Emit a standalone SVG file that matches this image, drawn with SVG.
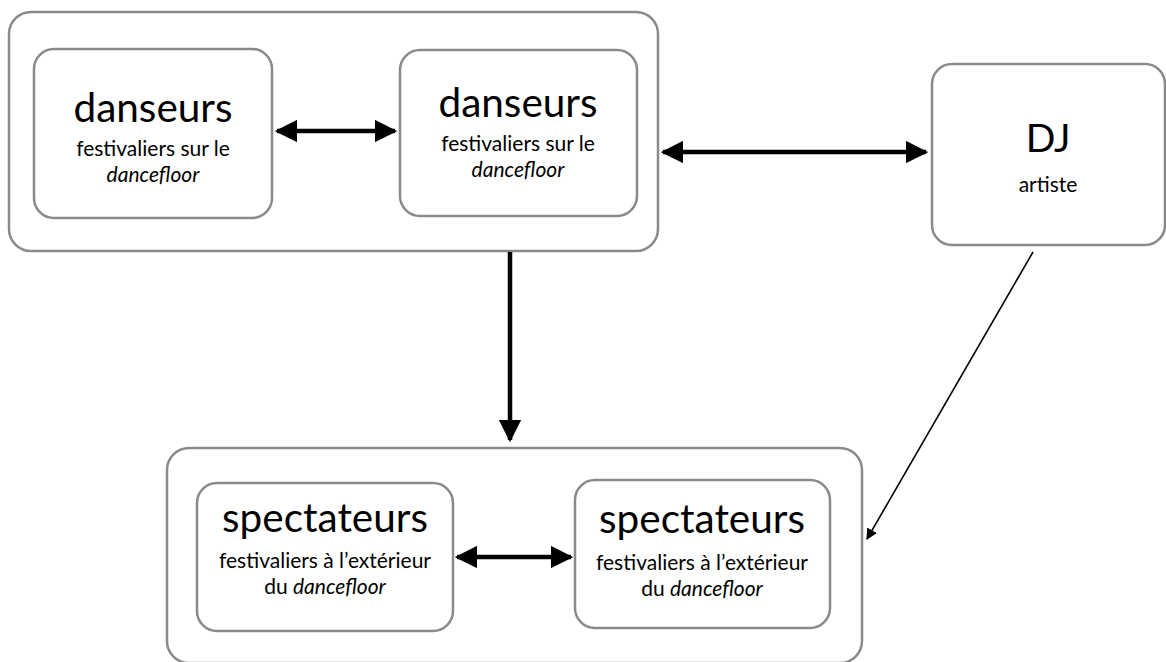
<svg xmlns="http://www.w3.org/2000/svg" width="1166" height="662" viewBox="0 0 1166 662">
<style>
.box{fill:#fff;stroke:#8a8a8a;stroke-width:2.5}
.t{font-family:Lato,"Open Sans",sans-serif;fill:#000;text-anchor:middle}
.big{font-size:40.5px}
.sub{font-size:21px}
.it{font-style:italic}
.c{stroke:#000;fill:none}
</style>
<defs>
<marker id="ah" viewBox="0 0 10 10" refX="9" refY="5" markerWidth="5" markerHeight="5" markerUnits="strokeWidth" orient="auto-start-reverse">
<path d="M0,0 L10,5 L0,10 z" fill="#000"/>
</marker>
<marker id="ahs" viewBox="0 0 10 10" refX="9" refY="5" markerWidth="7" markerHeight="7" markerUnits="strokeWidth" orient="auto">
<path d="M0,0 L10,5 L0,10 z" fill="#000"/>
</marker>
</defs>
<rect width="1166" height="662" fill="#fff"/>
<g id="groupe-danseurs">
<rect class="box" x="9" y="12" width="649" height="239" rx="22"/>
</g>
<g id="danseurs1">
<rect class="box" x="34" y="49" width="238" height="169" rx="20"/>
<text class="t big" x="153" y="122">danseurs</text>
<text class="t sub" x="153" y="156">festivaliers sur le</text>
<text class="t sub it" x="153" y="182">dancefloor</text>
</g>
<g id="danseurs2">
<rect class="box" x="400" y="50" width="237" height="166" rx="20"/>
<text class="t big" x="518" y="117">danseurs</text>
<text class="t sub" x="518" y="151">festivaliers sur le</text>
<text class="t sub it" x="518" y="177">dancefloor</text>
</g>
<g id="dj">
<rect class="box" x="932" y="64" width="233" height="181" rx="20"/>
<text class="t" x="1048" y="152" font-size="39">DJ</text>
<text class="t sub" x="1048" y="192">artiste</text>
</g>
<g id="groupe-spectateurs">
<rect class="box" x="167" y="448" width="695" height="215" rx="22"/>
</g>
<g id="spectateurs1">
<rect class="box" x="197" y="483" width="256" height="148" rx="20"/>
<text class="t big" x="325" y="532">spectateurs</text>
<text class="t sub" x="325" y="568">festivaliers à l’extérieur</text>
<text class="t sub" x="325" y="594">du <tspan class="it">dancefloor</tspan></text>
</g>
<g id="spectateurs2">
<rect class="box" x="575" y="480" width="255" height="148" rx="20"/>
<text class="t big" x="702" y="533">spectateurs</text>
<text class="t sub" x="702" y="570">festivaliers à l’extérieur</text>
<text class="t sub" x="702" y="596">du <tspan class="it">dancefloor</tspan></text>
</g>
<g id="connecteurs">
<line class="c" x1="277" y1="131" x2="395" y2="131" stroke-width="4.5" marker-start="url(#ah)" marker-end="url(#ah)"/>
<line class="c" x1="663" y1="152" x2="926" y2="152" stroke-width="4.5" marker-start="url(#ah)" marker-end="url(#ah)"/>
<line class="c" x1="510" y1="252" x2="510" y2="440" stroke-width="4.5" marker-end="url(#ah)"/>
<line class="c" x1="457" y1="557" x2="571" y2="557" stroke-width="4.5" marker-start="url(#ah)" marker-end="url(#ah)"/>
<line class="c" x1="1033" y1="252" x2="867" y2="539" stroke-width="1.6" marker-end="url(#ahs)"/>
</g>
</svg>
